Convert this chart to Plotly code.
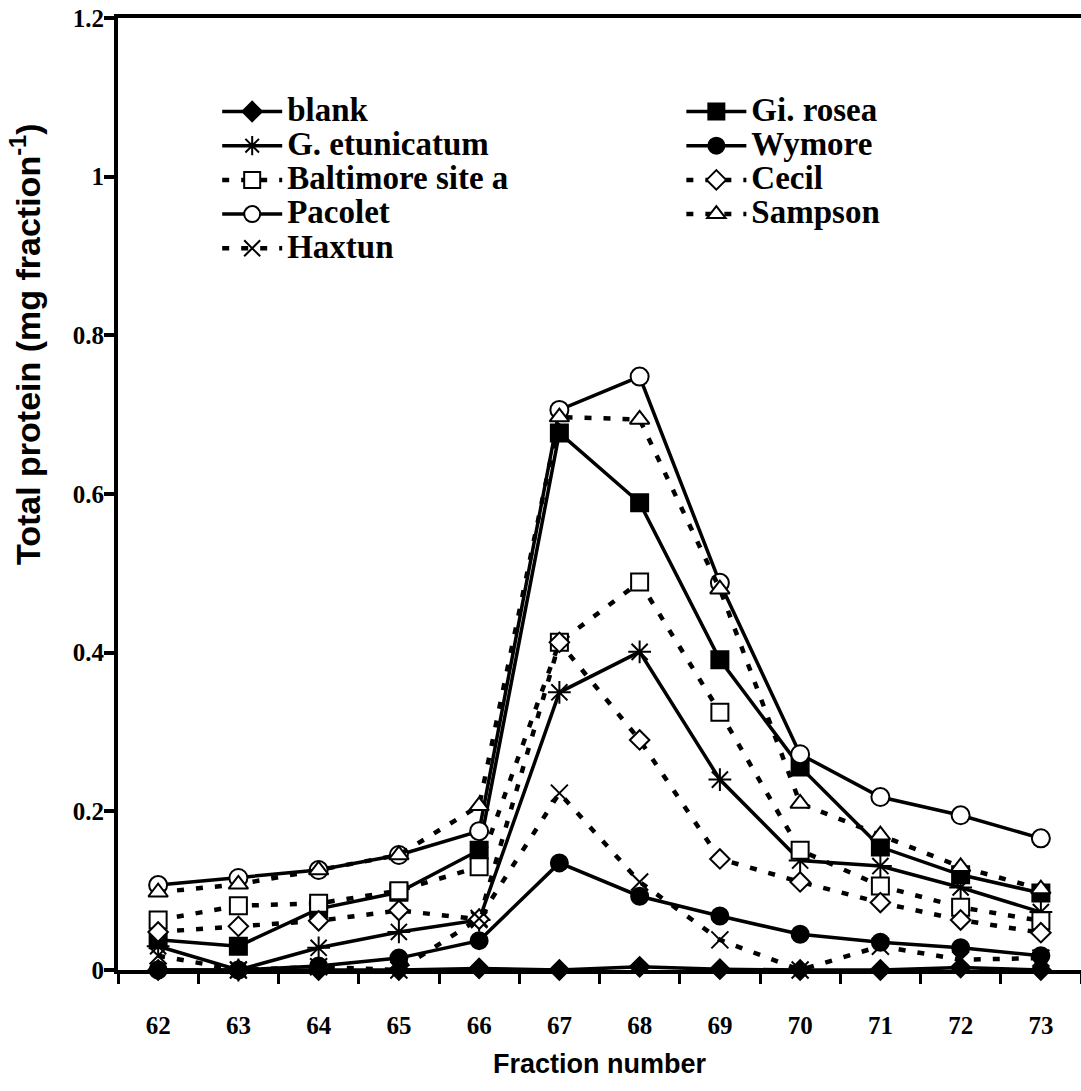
import plotly.graph_objects as go

fractions = [62, 63, 64, 65, 66, 67, 68, 69, 70, 71, 72, 73]

blank          = [0.000, 0.000, 0.000, 0.000, 0.002, 0.000, 0.004, 0.001, 0.000, 0.000, 0.003, 0.000]
gi_rosea       = [0.038, 0.030, 0.077, 0.098, 0.151, 0.677, 0.589, 0.391, 0.256, 0.155, 0.120, 0.097]
g_etunicatum   = [0.030, 0.000, 0.028, 0.048, 0.063, 0.350, 0.401, 0.240, 0.138, 0.131, 0.104, 0.073]
wymore         = [0.000, 0.000, 0.005, 0.015, 0.037, 0.135, 0.093, 0.068, 0.045, 0.035, 0.028, 0.018]
baltimore      = [0.063, 0.081, 0.084, 0.100, 0.130, 0.413, 0.489, 0.325, 0.151, 0.106, 0.079, 0.062]
cecil          = [0.048, 0.055, 0.062, 0.075, 0.064, 0.413, 0.290, 0.140, 0.111, 0.085, 0.063, 0.047]
pacolet        = [0.107, 0.116, 0.126, 0.145, 0.175, 0.706, 0.748, 0.488, 0.272, 0.218, 0.195, 0.166]
sampson        = [0.098, 0.108, 0.126, 0.145, 0.207, 0.697, 0.694, 0.480, 0.210, 0.170, 0.130, 0.102]
haxtun         = [0.018, 0.000, 0.004, 0.000, 0.065, 0.223, 0.111, 0.038, 0.000, 0.030, 0.013, 0.015]

y_ticks = [0, 0.2, 0.4, 0.6, 0.8, 1.0, 1.2]
y_ticktext = ["0", "0.2", "0.4", "0.6", "0.8", "1", "1.2"]

series = [
    # name, data, symbol, fill, dashed, size, legend
    ("blank", blank, "diamond", "black", False, 15, "legend"),
    ("Gi. rosea", gi_rosea, "square", "black", False, 17, "legend2"),
    ("G. etunicatum", g_etunicatum, "asterisk-open", "black", False, 19, "legend"),
    ("Wymore", wymore, "circle", "black", False, 17, "legend2"),
    ("Baltimore site a", baltimore, "square", "white", True, 17, "legend"),
    ("Cecil", cecil, "diamond", "white", True, 15, "legend2"),
    ("Pacolet", pacolet, "circle", "white", False, 18, "legend"),
    ("Sampson", sampson, "triangle-up", "white", True, 17, "legend2"),
    ("Haxtun", haxtun, "x-thin-open", "black", True, 17, "legend"),
]

fig = go.Figure()
for name, data, sym, fill, dashed, size, leg in series:
    fig.add_trace(go.Scatter(
        x=fractions, y=data, mode="lines+markers",
        name='<span style="font-size:33px">' + name + '</span>',
        legend=leg, cliponaxis=False,
        line=dict(color="black", width=4.5 if dashed else 3.5,
                  dash="7px,12px" if dashed else "solid"),
        marker=dict(symbol=sym, size=size, color=fill,
                    line=dict(color="black", width=2)),
    ))

legend_font = dict(family="Liberation Serif", size=24, color="black", weight="bold")
tick_font = dict(family="Liberation Serif", size=25, color="black", weight="bold")

fig.update_layout(
    width=1081, height=1091,
    margin=dict(l=118, r=0, t=18, b=121),
    paper_bgcolor="white", plot_bgcolor="white",
    showlegend=True,
    legend=dict(x=0.103, y=0.925, xanchor="left", yanchor="top",
                font=legend_font, bgcolor="rgba(0,0,0,0)",
                itemwidth=60, tracegroupgap=0),
    legend2=dict(x=0.585, y=0.925, xanchor="left", yanchor="top",
                 font=legend_font, bgcolor="rgba(0,0,0,0)",
                 itemwidth=60, tracegroupgap=0),
    xaxis=dict(
        range=[61.5, 73.5], tickvals=fractions,
        ticktext=[str(f) for f in fractions],
        ticks="outside", ticklen=30, tickcolor="rgba(0,0,0,0)",
        tickfont=tick_font,
        showline=True, linewidth=4, linecolor="black", mirror=True,
        showgrid=False, zeroline=False,
        minor=dict(tick0=61.5, dtick=1, ticks="outside", ticklen=10,
                   tickwidth=3, tickcolor="black", showgrid=False),
    ),
    yaxis=dict(
        range=[0, 1.2], tickvals=y_ticks, ticktext=y_ticktext,
        ticks="outside", ticklen=10, tickwidth=4, tickcolor="black",
        tickfont=tick_font, ticklabelstandoff=-5,
        showline=True, linewidth=4, linecolor="black",
        showgrid=False, zeroline=False,
    ),
    annotations=[
        dict(text="Fraction number", xref="paper", yref="paper",
             x=0.5, y=-0.099, xanchor="center", yanchor="middle", showarrow=False,
             font=dict(family="Liberation Sans", size=27, color="black", weight="bold")),
        dict(text="Total protein (mg fraction<sup>-1</sup>)", xref="paper", yref="paper",
             x=-0.096, y=0.657, xanchor="center", yanchor="middle", showarrow=False,
             textangle=-90,
             font=dict(family="Liberation Sans", size=34, color="black", weight="bold")),
    ],
)

fig.write_html("out.html")
